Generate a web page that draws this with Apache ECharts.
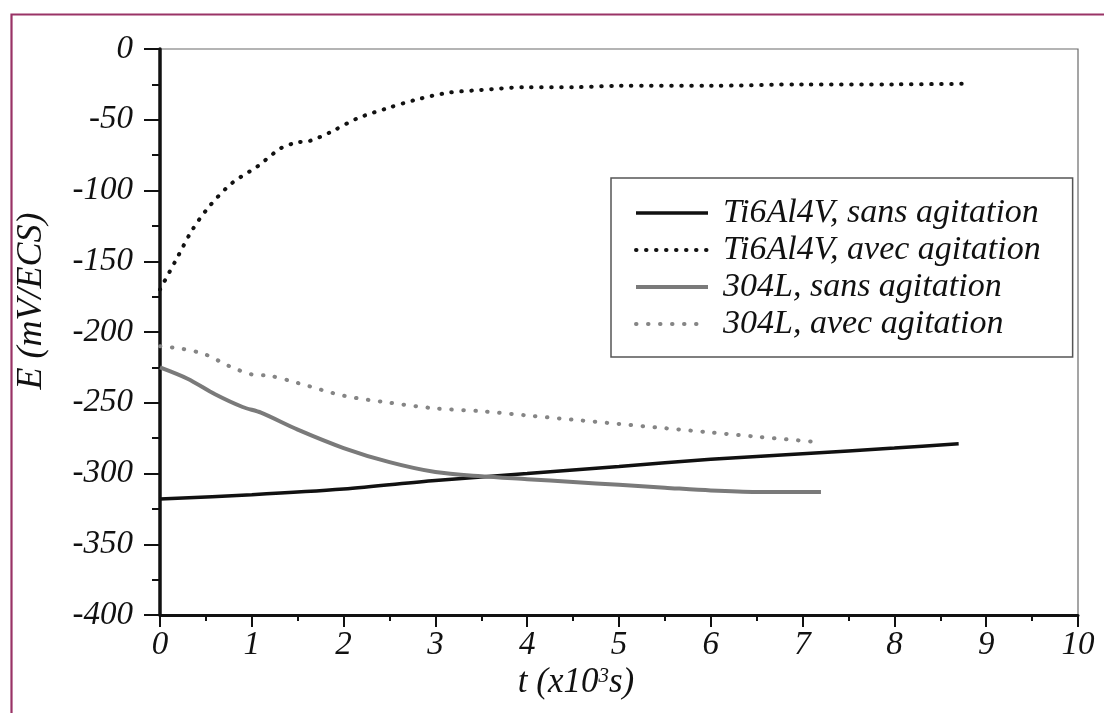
<!DOCTYPE html>
<html><head><meta charset="utf-8">
<script src="https://cdn.jsdelivr.net/npm/echarts@6/dist/echarts.min.js"></script>
<style>html,body{margin:0;padding:0;background:#fff}#c{width:1104px;height:713px}</style>
</head><body><div id="c"></div>
<script>
// time in 10^3 s, potential in mV/ECS
const tiAvecT = [0, 0.2, 0.35, 0.54, 0.78, 1.06, 1.32, 1.5, 1.63, 1.85, 2.15, 2.47, 2.78, 3.13, 3.49, 4, 4.5, 5, 6, 7, 8, 8.83];
const tiAvecE = [-170, -146, -128, -111, -95, -83, -70, -66, -65, -59, -49, -42, -36, -31, -29, -27, -27, -26, -26, -25, -25, -24.5];
const tiSansT = [0, 1, 2, 3, 4, 5, 6, 7, 8, 8.7];
const tiSansE = [-318, -315, -311, -305, -300, -295, -290, -286, -282, -279];
const ssSansT = [0, 0.3, 0.6, 0.9, 1.1, 1.5, 2, 2.5, 3, 3.5, 4, 4.5, 5, 5.5, 6, 6.5, 7.2];
const ssSansE = [-225, -233, -244, -253, -257, -269, -282, -292, -299, -302, -304, -306, -308, -310, -312, -313, -313];
const ssAvecT = [0, 0.25, 0.5, 0.75, 1, 1.2, 1.5, 2, 2.5, 3, 3.5, 4, 4.5, 5, 5.5, 6, 6.5, 7.2];
const ssAvecE = [-210, -212, -216, -224, -230, -231, -236, -245, -250, -254, -256, -259, -262, -265, -268, -271, -274, -278];
const seriesNames = ['Ti6Al4V, sans agitation', 'Ti6Al4V, avec agitation', '304L, sans agitation', '304L, avec agitation'];
const xTicks = [0, 1, 2, 3, 4, 5, 6, 7, 8, 9, 10];
const yTicks = [0, -50, -100, -150, -200, -250, -300, -350, -400];

const zip = (a, b) => a.map((v, i) => [v, b[i]]);
const FONT = "'Liberation Serif','DejaVu Serif',serif";
const TXT = '#111';
const styles = [
  {color: '#111', width: 3.5, type: 'solid'},
  {color: '#111', width: 4, type: [0.5, 9.5], cap: 'round'},
  {color: '#7a7a7a', width: 4, type: 'solid'},
  {color: '#858585', width: 4, type: [0.5, 11.5], cap: 'round'}
];
const chart = echarts.init(document.getElementById('c'));
chart.setOption({
  animation: false,
  grid: {left: 160, top: 49, right: 26, bottom: 98, show: true, borderColor: '#6a6a6a', borderWidth: 1.2},
  xAxis: {
    type: 'value', min: xTicks[0], max: xTicks[xTicks.length - 1], interval: 1,
    axisLine: {show: true, onZero: false, lineStyle: {color: '#111', width: 3}},
    axisTick: {show: true, length: 12, lineStyle: {color: '#111', width: 2}},
    minorTick: {show: true, splitNumber: 2, length: 6, lineStyle: {color: '#111', width: 2}},
    splitLine: {show: false},
    axisLabel: {margin: 14, color: TXT, fontFamily: FONT, fontStyle: 'italic', fontSize: 33}
  },
  yAxis: {
    type: 'value', min: yTicks[yTicks.length - 1], max: yTicks[0], interval: 50,
    axisLine: {show: true, onZero: false, lineStyle: {color: '#111', width: 3.5}},
    axisTick: {show: true, length: 16, lineStyle: {color: '#111', width: 2}},
    minorTick: {show: true, splitNumber: 2, length: 8, lineStyle: {color: '#111', width: 2}},
    splitLine: {show: false},
    axisLabel: {margin: 27, color: TXT, fontFamily: FONT, fontStyle: 'italic', fontSize: 33}
  },
  legend: {
    orient: 'vertical', left: 611, top: 178,
    padding: [18, 32, 16, 23], itemGap: 3, itemWidth: 72, itemHeight: 14,
    borderColor: '#555', borderWidth: 1.5, backgroundColor: '#fff',
    textStyle: {fontFamily: FONT, fontStyle: 'italic', fontSize: 34, color: TXT, padding: [0, 0, 0, 10]},
    data: seriesNames.map((n, i) => ({
      name: n,
      itemStyle: {opacity: 0, borderWidth: 0},
      lineStyle: {color: styles[i].color, width: styles[i].width, type: styles[i].type, cap: styles[i].cap || 'butt', opacity: 1}
    }))
  },
  series: seriesNames.map((n, i) => ({
    name: n, type: 'line', symbol: 'none', smooth: 0.3,
    data: [zip(tiSansT, tiSansE), zip(tiAvecT, tiAvecE), zip(ssSansT, ssSansE), zip(ssAvecT, ssAvecE)][i],
    lineStyle: styles[i], itemStyle: {color: styles[i].color}
  })),
  graphic: [
    {type: 'rect', left: 9, top: 12, shape: {width: 1200, height: 800}, z: 100, silent: true,
     style: {fill: 'none', stroke: '#993366', lineWidth: 2.2}},
    {type: 'text', x: 32, y: 301, rotation: Math.PI / 2, z: 100,
     style: {text: 'E (mV/ECS)', fontFamily: FONT, fontStyle: 'italic', fontSize: 36, fill: TXT, align: 'center', verticalAlign: 'middle'}},
    {type: 'text', x: 576, y: 683, z: 100,
     style: {text: '{a|t (x10}{s|3}{a|s)}', align: 'center', verticalAlign: 'middle',
       rich: {a: {fontFamily: FONT, fontStyle: 'italic', fontSize: 35, fill: TXT},
              s: {fontFamily: FONT, fontStyle: 'italic', fontSize: 21, fill: TXT, verticalAlign: 'top', padding: [0, 0, 14, 0]}}}}
  ]
});
</script></body></html>
